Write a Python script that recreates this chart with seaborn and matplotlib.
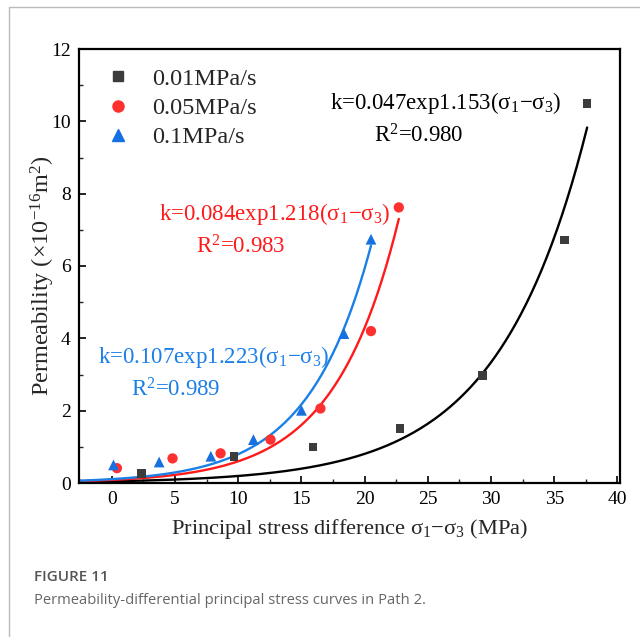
import numpy as np
import pandas as pd
import matplotlib
matplotlib.use("Agg")
import matplotlib.pyplot as plt
import seaborn as sns
from matplotlib.ticker import MultipleLocator
from matplotlib.lines import Line2D

# ---- data ----
x_001 = [2.35, 9.67, 15.9, 22.8, 29.3, 35.8, 37.6]
y_001 = [0.27, 0.73, 1.00, 1.51, 2.98, 6.72, 10.49]
x_005 = [0.4, 4.8, 8.6, 12.55, 16.5, 20.5, 22.7]
y_005 = [0.41, 0.68, 0.82, 1.20, 2.06, 4.20, 7.62]
x_01 = [0.13, 3.74, 7.83, 11.2, 15.0, 18.36, 20.5]
y_01 = [0.50, 0.58, 0.74, 1.20, 2.01, 4.13, 6.74]

series_labels = ["0.01MPa/s", "0.05MPa/s", "0.1MPa/s"]
# exponential fit curves  k = a*exp(b*x)
fit_a = [0.047, 0.084, 0.107]
fit_b = [0.1421, 0.1967, 0.2008]
fit_xend = [37.6, 22.7, 20.5]
eq_texts = ["k=0.047exp1.153(σ$_1$−σ$_3$)", "k=0.084exp1.218(σ$_1$−σ$_3$)", "k=0.107exp1.223(σ$_1$−σ$_3$)"]
r2_texts = ["R$^2$=0.980", "R$^2$=0.983", "R$^2$=0.989"]

xticks = [0, 5, 10, 15, 20, 25, 30, 35, 40]
yticks = [0, 2, 4, 6, 8, 10, 12]

sns.set_theme(style="white")
plt.rcParams['font.family'] = ['Liberation Serif', 'DejaVu Serif']
plt.rcParams['mathtext.fontset'] = 'custom'
plt.rcParams['mathtext.rm'] = 'Liberation Serif'
plt.rcParams['mathtext.it'] = 'Liberation Serif:italic'
plt.rcParams['mathtext.default'] = 'regular'

fig = plt.figure(figsize=(6.4, 6.37), dpi=100)
ax = fig.add_axes([79/640, 1-483/637, (620-79)/640, (483-49)/637])

marker_colors = ["#3c3c3c", "#ff3030", "#1670e0"]
line_colors = ["#000000", "#ff1a1a", "#1a7fe6"]
markers = ["s", "o", "^"]
sizes = [38, 55, 60]
xs = [x_001, x_005, x_01]
ys = [y_001, y_005, y_01]

for i in range(3):
    xf = np.linspace(-2.5, fit_xend[i], 300)
    df_fit = pd.DataFrame({"x": xf, "y": fit_a[i] * np.exp(fit_b[i] * xf)})
    sns.lineplot(data=df_fit, x="x", y="y", ax=ax, color=line_colors[i], lw=1.7, zorder=2)

for i in range(3):
    df = pd.DataFrame({"x": xs[i], "y": ys[i]})
    sns.scatterplot(data=df, x="x", y="y", ax=ax, marker=markers[i], s=sizes[i],
                    color=marker_colors[i], edgecolor="none", zorder=3)

ax.set_xlim(-2.6, 40.2)
ax.set_ylim(0, 12)
ax.set_xticks(xticks)
ax.set_yticks(yticks)
ax.xaxis.set_minor_locator(MultipleLocator(2.5))
ax.yaxis.set_minor_locator(MultipleLocator(1))
ax.tick_params(which='major', direction='in', length=5, width=1.2, labelsize=14,
               bottom=True, left=True, top=False, right=False, colors='black', pad=6)
ax.tick_params(which='minor', direction='in', length=3, width=1.0,
               bottom=True, left=True, top=False, right=False)
for s in ax.spines.values():
    s.set_color('black')
    s.set_linewidth(1.6)

ax.set_xlabel("Principal stress difference σ$_1$−σ$_3$ (MPa)", fontsize=16.2, labelpad=6)
ax.set_ylabel("Permeability (×10$^{-16}$m$^2$)", fontsize=17.5)
ax.yaxis.set_label_coords(-0.041, 0.478)

handles = [Line2D([], [], ls='none', marker=markers[i], color=marker_colors[i],
                  markersize=[6.5, 8, 8][i]) for i in range(3)]
ax.legend(handles, series_labels, loc='upper left', frameon=False, fontsize=17.5,
          bbox_to_anchor=(0.005, 1.007), handlelength=1.2, handletextpad=0.8,
          labelspacing=0.3, borderpad=0.4)

ax.text(26.4, 10.51, eq_texts[0], color='black', fontsize=16.5, ha='center', va='center')
ax.text(24.3, 9.6, r2_texts[0], color='black', fontsize=16.5, ha='center', va='center')
ax.text(12.9, 7.45, eq_texts[1], color='#ff1a1a', fontsize=16.5, ha='center', va='center')
ax.text(10.2, 6.54, r2_texts[1], color='#ff1a1a', fontsize=16.5, ha='center', va='center')
ax.text(8.06, 3.48, eq_texts[2], color='#1a7fe6', fontsize=16.5, ha='center', va='center')
ax.text(5.06, 2.57, r2_texts[2], color='#1a7fe6', fontsize=16.5, ha='center', va='center')

# frame lines of the figure box
fig.add_artist(Line2D([9/640, 9/640], [0, 1-7/637], transform=fig.transFigure, color='#bbbbbb', lw=1))
fig.add_artist(Line2D([9/640, 1], [1-7/637, 1-7/637], transform=fig.transFigure, color='#bbbbbb', lw=1))

fig.text(34/640, 1-577/637, "FIGURE 11", family='Open Sans', fontsize=11, fontweight='semibold',
         color='#555555', va='center', ha='left')
fig.text(34/640, 1-600/637, "Permeability-differential principal stress curves in Path 2.",
         family='Open Sans', fontsize=10.6, color='#666666', va='center', ha='left')

fig.savefig("out.png", dpi=100)
